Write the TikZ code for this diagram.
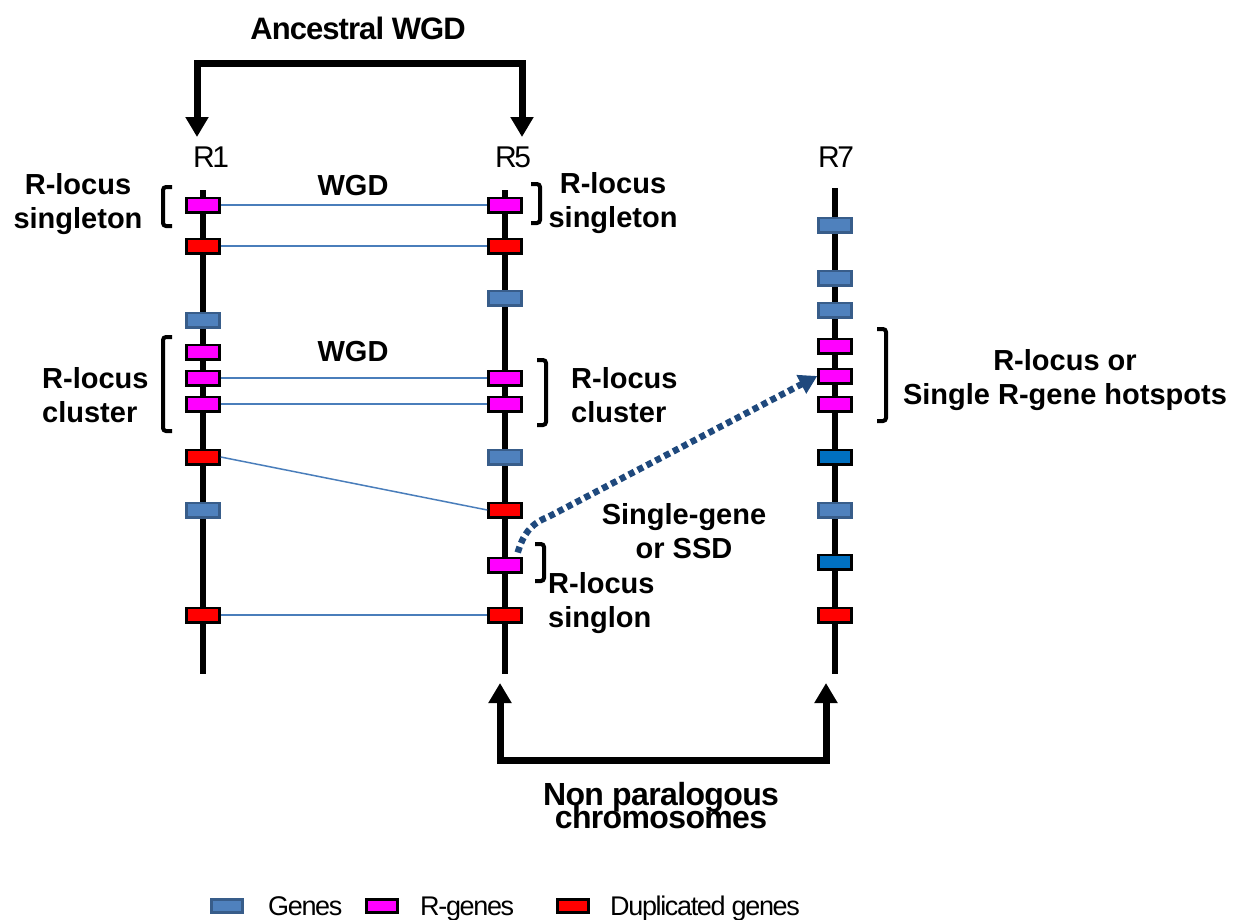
\documentclass[tikz,border=0pt]{standalone}
\usepackage{fontspec}
\setmainfont{Liberation Sans}
\usetikzlibrary{arrows.meta,calc}
\definecolor{genefill}{RGB}{79,129,189}
\definecolor{genedraw}{RGB}{56,93,138}
\definecolor{rmag}{RGB}{255,0,255}
\definecolor{dupred}{RGB}{255,0,0}
\definecolor{darkgene}{RGB}{0,112,192}
\definecolor{wgdline}{RGB}{74,126,187}
\definecolor{ssdcol}{RGB}{31,73,125}
\newcommand\mytightlines{\lineskiplimit=-100pt\relax\lineskip=0pt\relax}
\begin{document}
\begin{tikzpicture}[x=1pt,y=-1pt,
  chrom/.style={line width=6.5pt},
  gbox/.style={minimum width=33pt,minimum height=14.5pt,inner sep=0pt,draw,line width=2.5pt},
  gene/.style={gbox,fill=genefill,draw=genedraw},
  rgene/.style={gbox,fill=rmag,draw=black},
  dup/.style={gbox,fill=dupred,draw=black},
  dgene/.style={gbox,fill=darkgene,draw=black},
  link/.style={wgdline,line width=1.5pt},
  lbl/.style={font=\fontsize{29}{34}\selectfont\bfseries,inner sep=0pt},
  chrlbl/.style={font=\fontsize{30}{34}\selectfont\addfontfeature{LetterSpace=-8},inner sep=0pt},
  brk/.style={line width=4pt,rounded corners=3pt},
  bigarrow/.style={line width=7pt,line join=miter,{Triangle[width=22pt,length=20pt]}-{Triangle[width=22pt,length=20pt]}},
  ssdarrow/.style={ssdcol,line width=6.5pt,dash pattern=on 6pt off 4pt,-{Triangle[width=20pt,length=18pt]}},
  legtxt/.style={font=\fontsize{27}{30}\selectfont\addfontfeature{LetterSpace=-5},inner sep=0pt,anchor=base west}
]
\useasboundingbox (0,0) rectangle (1242,919);

% titles
\node[font=\fontsize{31}{34}\selectfont\bfseries\addfontfeature{LetterSpace=-3},inner sep=0pt] (anc) at (358,28) {Ancestral WGD};
\node[chrlbl] (l1) at (211,157) {R1};
\node[chrlbl] (l5) at (513,157) {R5};
\node[chrlbl] (l7) at (836,157) {R7};

% chromosomes
\coordinate (c1t) at (203,190); \coordinate (c1b) at (203,674);
\coordinate (c5t) at (505,190); \coordinate (c5b) at (505,674);
\coordinate (c7t) at (835,188); \coordinate (c7b) at (835,674);
\draw[chrom] (c1t) -- (c1b);
\draw[chrom] (c5t) -- (c5b);
\draw[chrom] (c7t) -- (c7b);

% R1 genes
\node[rgene] (a1) at (203,205) {};
\node[dup]   (a2) at (203,246) {};
\node[gene]  (a3) at (203,320) {};
\node[rgene] (a4) at (203,352) {};
\node[rgene] (a5) at (203,378) {};
\node[rgene] (a6) at (203,404) {};
\node[dup]   (a7) at (203,457) {};
\node[gene]  (a8) at (203,510) {};
\node[dup]   (a9) at (203,615) {};

% R5 genes
\node[rgene] (b1) at (505,205) {};
\node[dup]   (b2) at (505,246) {};
\node[gene]  (b3) at (505,298) {};
\node[rgene] (b4) at (505,378) {};
\node[rgene] (b5) at (505,404) {};
\node[gene]  (b6) at (505,457) {};
\node[dup]   (b7) at (505,510) {};
\node[rgene] (b8) at (505,565) {};
\node[dup]   (b9) at (505,615) {};

% R7 genes
\node[gene]  (r1) at (835,225) {};
\node[gene]  (r2) at (835,278) {};
\node[gene]  (r3) at (835,310) {};
\node[rgene] (r4) at (835,346) {};
\node[rgene] (r5) at (835,376) {};
\node[rgene] (r6) at (835,404) {};
\node[dgene] (r7) at (835,457) {};
\node[gene]  (r8) at (835,510) {};
\node[dgene] (r9) at (835,562) {};
\node[dup]   (r10) at (835,615) {};

% WGD links
\draw[link] (a1.east) -- (b1.west);
\draw[link] (a2.east) -- (b2.west);
\draw[link] (a5.east) -- (b4.west);
\draw[link] (a6.east) -- (b5.west);
\draw[link] (a7.east) -- (b7.west);
\draw[link] (a9.east) -- (b9.west);

\node[lbl] (w1) at (353,186) {WGD};
\node[lbl] (w2) at (353,352) {WGD};

% brackets
\draw[brk] (172,187) -- (163,187) -- (163,226) -- (172,226);
\draw[brk] (172,337) -- (163,337) -- (163,431) -- (172,431);
\draw[brk] (531,184) -- (540,184) -- (540,223) -- (531,223);
\draw[brk] (537,360) -- (546,360) -- (546,425) -- (537,425);
\draw[brk] (535,544) -- (544,544) -- (544,581) -- (535,581);
\draw[brk] (877,329) -- (886,329) -- (886,421) -- (877,421);

% bracket labels
\node[lbl,align=center] (t1) at (78,204) {R-locus\\singleton};
\node[lbl,align=left,anchor=west] (t2) at (42,395) {R-locus\\cluster};
\node[lbl,align=center] (t3) at (613,203) {R-locus\\singleton};
\node[lbl,align=left,anchor=west] (t4) at (571,395) {R-locus\\cluster};
\node[lbl,align=left,anchor=west] (t5) at (548,603) {R-locus\\singlon};
\node[lbl,align=center] (t6) at (1065,380) {R-locus or\\Single R-gene hotspots};
\node[lbl,align=center] (t7) at (684,531) {Single-gene\\or SSD};

% ancestral WGD arrow
\coordinate (ta) at (197,137);
\coordinate (tb) at (197,63);
\coordinate (tc) at (522,63);
\coordinate (td) at (522,137);
\draw[bigarrow] (ta) -- (tb) -- (tc) -- (td);

% non paralogous arrow
\coordinate (ba) at (500,683);
\coordinate (bb) at (500,760);
\coordinate (bc) at (826,760);
\coordinate (bd) at (826,683);
\draw[bigarrow] (ba) -- (bb) -- (bc) -- (bd);
\node[font=\fontsize{32}{23}\selectfont\bfseries\addfontfeature{LetterSpace=-2}\mytightlines,align=center,inner sep=0pt] (np) at (661,806) {Non paralogous\\chromosomes};

% SSD arrow
\coordinate (s0) at ($(b8.north east)+(-5,-4)$);
\draw[ssdarrow] (s0) .. controls (523,535) and (530,524) .. (548,517) -- (r5.west);

% legend
\node[gene,minimum width=31pt,minimum height=13pt] (g1) at (227,906) {};
\node[rgene,minimum width=31pt,minimum height=13pt] (g2) at (382,906) {};
\node[dup,minimum width=31pt,minimum height=13pt] (g3) at (573,906) {};
\node[legtxt] (gt1) at (268,915) {Genes};
\node[legtxt] (gt2) at (420,915) {R-genes};
\node[legtxt] (gt3) at (610,915) {Duplicated genes};
\end{tikzpicture}
\end{document}
